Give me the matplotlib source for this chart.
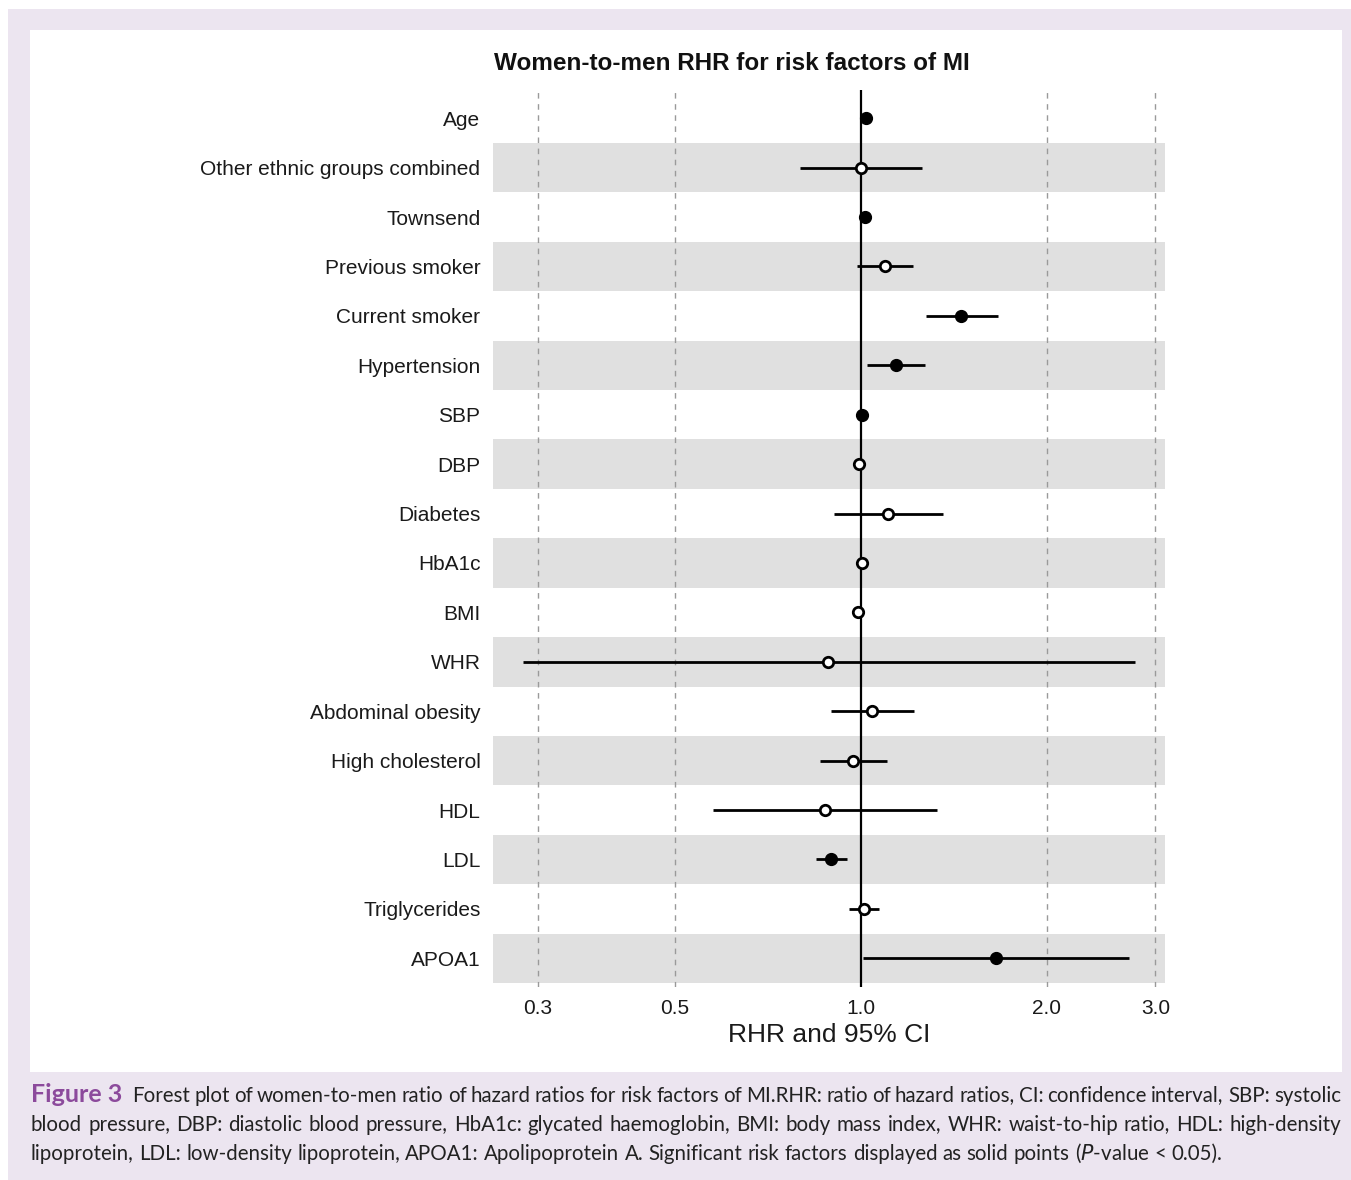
import math
import matplotlib
matplotlib.use("Agg")
import matplotlib.pyplot as plt
from matplotlib.patches import Rectangle
from matplotlib.font_manager import FontProperties

# Risk factors, top to bottom
factors = [
    "Age", "Other ethnic groups combined", "Townsend", "Previous smoker",
    "Current smoker", "Hypertension", "SBP", "DBP", "Diabetes", "HbA1c",
    "BMI", "WHR", "Abdominal obesity", "High cholesterol", "HDL", "LDL",
    "Triglycerides", "APOA1",
]
# Women-to-men ratio of hazard ratios and 95% CI
rhr = [1.019, 1.00, 1.015, 1.094, 1.452, 1.139, 1.004, 0.993, 1.106, 1.004,
       0.989, 0.884, 1.042, 0.971, 0.874, 0.894, 1.011, 1.654]
ci_low = [1.012, 0.797, 1.010, 0.985, 1.274, 1.023, 1.000, 0.987, 0.904, 0.997,
          0.983, 0.284, 0.894, 0.858, 0.576, 0.846, 0.956, 1.007]
ci_high = [1.026, 1.255, 1.020, 1.214, 1.667, 1.269, 1.008, 0.999, 1.358, 1.011,
           0.995, 2.777, 1.218, 1.102, 1.328, 0.949, 1.069, 2.716]
significant = [True, False, True, False, True, True, True, False, False, False,
               False, False, False, False, False, True, False, True]
xticks = [0.3, 0.5, 1.0, 2.0, 3.0]
xtick_labels = ["0.3", "0.5", "1.0", "2.0", "3.0"]

caption_lines = [
    "Forest plot of women-to-men ratio of hazard ratios for risk factors of MI.RHR: ratio of hazard ratios, CI: confidence interval, SBP: systolic",
    "blood pressure, DBP: diastolic blood pressure, HbA1c: glycated haemoglobin, BMI: body mass index, WHR: waist-to-hip ratio, HDL: high-density",
    r"lipoprotein, LDL: low-density lipoprotein, APOA1: Apolipoprotein A. Significant risk factors displayed as solid points ($\it{P}$-value < 0.05).",
]

W, H = 1351, 1180
fig = plt.figure(figsize=(W / 100, H / 100), dpi=100)
fig.patch.set_facecolor("white")

# lavender figure box and the white panel holding the plot
fig.patches.append(Rectangle((8 / W, 0), (W - 8) / W, (H - 9) / H,
                             transform=fig.transFigure, facecolor="#ece5f0",
                             edgecolor="none", zorder=0))
fig.patches.append(Rectangle((30 / W, 1 - 1072 / H), (1342 - 30) / W, (1072 - 30) / H,
                             transform=fig.transFigure, facecolor="white",
                             edgecolor="none", zorder=0.5))

ax = fig.add_axes([493 / W, 1 - 987 / H, (1165 - 493) / W, (987 - 90) / H])
ax.set_zorder(2)
ax.set_facecolor("none")
ax.set_xscale("log")
xmin, xmax = 0.2535, 3.11
ax.set_xlim(xmin, xmax)
n = len(factors)
ax.set_ylim(n - 1 + 0.58, -0.57)

# alternating row bands
for i in range(n):
    if i % 2 == 1:
        ax.axhspan(i - 0.5, i + 0.5, color="#e0e0e0", lw=0, zorder=0)

for xv in xticks:
    if xv != 1.0:
        ax.axvline(xv, color="#9a9a9a", lw=1.0, ls=(0, (4, 4)), zorder=1)
ax.axvline(1.0, color="black", lw=1.6, zorder=2)

for i in range(n):
    ax.plot([ci_low[i], ci_high[i]], [i, i], color="black", lw=2.0,
            solid_capstyle="butt", zorder=3)
    if significant[i]:
        ax.plot(rhr[i], i, "o", ms=8.5, mfc="black", mec="black", mew=1.0, zorder=4)
    else:
        ax.plot(rhr[i], i, "o", ms=7.5, mfc="white", mec="black", mew=2.0, zorder=4)

ax.set_yticks(range(n))
ax.set_yticklabels(factors, fontsize=15.0, color="#1a1a1a", family="Liberation Sans")
ax.set_xticks(xticks)
ax.set_xticklabels(xtick_labels, fontsize=15, color="#1a1a1a", family="Liberation Sans")
ax.minorticks_off()
ax.tick_params(axis="y", length=0, pad=9)
ax.tick_params(axis="x", length=0, pad=9)
for s in ax.spines.values():
    s.set_visible(False)

ax.set_xlabel("RHR and 95% CI", fontsize=19, family="Liberation Sans",
              color="#1a1a1a", labelpad=3)
fig.text((493 + 970) / 2 / W, 1 - 63 / H, "Women-to-men RHR for risk factors of MI",
         ha="center", va="center", fontsize=17.5, fontweight="bold",
         family="Liberation Sans", color="#111111")

# caption, justified word by word to the panel width on all but the last line
cap_font = "Lato"
cap_size = 14.8
left_px, right_px = 31, 1341
line_y = [1102, 1131, 1160]
renderer = fig.canvas.get_renderer()
body_fp = FontProperties(family=cap_font, size=cap_size)
head_fp = FontProperties(family=cap_font, size=18, weight="bold")


def measure(word, fp):
    ismath = "$" in word
    w, h, d = renderer.get_text_width_height_descent(word, fp, ismath=ismath)
    return w, h, d, ismath


def baseline_y(base_px, h, d, ismath):
    # keep every word on the same pixel baseline despite bitmap rounding
    if ismath:
        return 1 - base_px / H
    a = h - d
    y_down = base_px + math.floor(a + d) - math.floor(a) - d
    return 1 - y_down / H


def put_word(x_px, base_px, word, fp, **kw):
    w, h, d, ismath = measure(word, fp)
    fig.text(x_px / W, baseline_y(base_px, h, d, ismath), word,
             fontproperties=fp, va="baseline", **kw)
    return w


space_w = measure("a b", body_fp)[0] - measure("ab", body_fp)[0]
for k, line in enumerate(caption_lines):
    x = left_px
    if k == 0:
        x += put_word(x, line_y[k], "Figure 3", head_fp, color="#8c4a9c") + 10
    words = line.split(" ")
    widths = [measure(w, body_fp)[0] for w in words]
    if k < len(caption_lines) - 1:
        gap = (right_px - x - sum(widths)) / (len(words) - 1)
    else:
        gap = space_w
    for w, wd in zip(words, widths):
        put_word(x, line_y[k], w, body_fp, color="#222222")
        x += wd + gap

fig.savefig("out.png", dpi=100, facecolor=fig.get_facecolor())
